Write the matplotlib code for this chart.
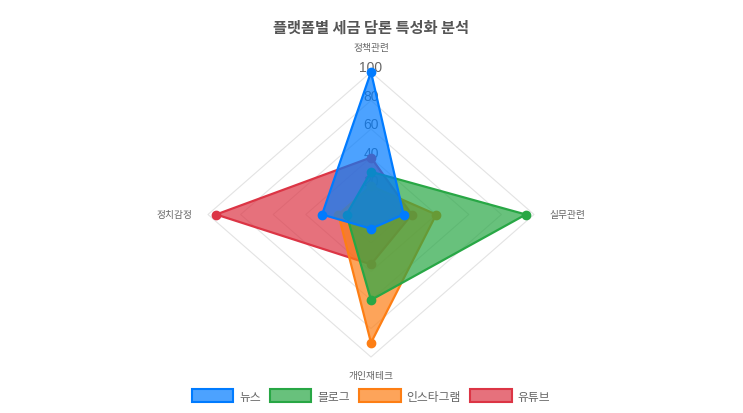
import matplotlib.pyplot as plt
from matplotlib.patches import Patch

plt.rcParams['font.family'] = ['Noto Sans CJK KR', 'DejaVu Sans']

# axes in order: top, right, bottom, left
categories = ['정책관련', '실무관련', '개인재테크', '정치감정']
series = ['뉴스', '블로그', '인스타그램', '유튜브']
news = [100, 20, 10, 30]
blog = [30, 95, 60, 15]
insta = [20, 40, 90, 20]
youtube = [40, 25, 35, 95]
ticks = [20, 40, 60, 80, 100]

COLORS = ['#007bff', '#28a745', '#fd7e14', '#dc3545']

# unit directions of each axis (top, right, bottom, left)
DIRS = [(0, 1), (1, 0), (0, -1), (-1, 0)]


def to_xy(values):
    xs = [v * d[0] for v, d in zip(values, DIRS)]
    ys = [v * d[1] for v, d in zip(values, DIRS)]
    return xs + xs[:1], ys + ys[:1]


fig = plt.figure(figsize=(7.43, 4.14), dpi=100)
ax = fig.add_axes([208 / 743, 1 - 358 / 414, 326 / 743, 285 / 414])
ax.set_xlim(-100, 100)
ax.set_ylim(-100, 100)
ax.axis('off')

# diamond grid
for t in ticks:
    gx, gy = to_xy([t] * 4)
    ax.plot(gx, gy, color='#e3e3e3', lw=0.8, zorder=1, clip_on=False)

# tick labels along the top axis
for t in ticks:
    ax.annotate(str(t), (0, t), xytext=(0, 3.5), textcoords='offset points',
                ha='center', va='center', fontsize=10, color='#666666',
                family=['Liberation Sans', 'DejaVu Sans'],
                zorder=2, annotation_clip=False)

# category labels
ax.annotate(categories[0], (0, 100), xytext=(0, 18), textcoords='offset points',
            ha='center', va='center', fontsize=7, color='#666666', annotation_clip=False)
ax.annotate(categories[1], (100, 0), xytext=(11, 0), textcoords='offset points',
            ha='left', va='center', fontsize=7, color='#666666', annotation_clip=False)
ax.annotate(categories[2], (0, -100), xytext=(0, -13), textcoords='offset points',
            ha='center', va='center', fontsize=7, color='#666666', annotation_clip=False)
ax.annotate(categories[3], (-100, 0), xytext=(-11, 0), textcoords='offset points',
            ha='right', va='center', fontsize=7, color='#666666', annotation_clip=False)

# datasets: first one drawn on top, like chart.js
data = [news, blog, insta, youtube]
for i in reversed(range(len(data))):
    z = 10 + (len(data) - i) * 3
    px, py = to_xy(data[i])
    ax.fill(px, py, color=COLORS[i], alpha=0.7, lw=0, zorder=z, clip_on=False)
    ax.plot(px, py, color=COLORS[i], lw=1.6, zorder=z + 1, clip_on=False)
    ax.plot(px[:-1], py[:-1], 'o', color=COLORS[i], ms=6, zorder=z + 2, clip_on=False)

fig.text(371 / 743, 1 - 28 / 414, '플랫폼별 세금 담론 특성화 분석', ha='center', va='center',
         fontsize=11, fontweight='bold', color='#555555')

handles = [Patch(facecolor=c + 'b3', edgecolor=c, lw=1.5) for c in COLORS]
leg = fig.legend(handles, series, loc='center', bbox_to_anchor=(371 / 743, 1 - 397 / 414),
                 ncol=4, frameon=False, fontsize=8.5, handlelength=3.5, handleheight=1.2,
                 handletextpad=0.5, columnspacing=0.8, labelcolor='#666666')

fig.savefig('out.png', dpi=100, facecolor='white')
